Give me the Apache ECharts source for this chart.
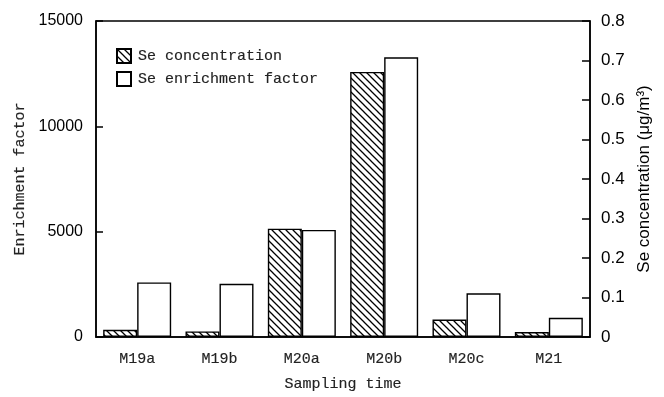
<!DOCTYPE html>
<html>
<head>
<meta charset="utf-8">
<script src="https://cdn.jsdelivr.net/npm/echarts@6/dist/echarts.min.js"></script>
<style>html,body{margin:0;padding:0;background:#fff}#c{width:664px;height:397px}</style>
</head>
<body>
<div id="c"></div>
<script>
const categories = ['M19a', 'M19b', 'M20a', 'M20b', 'M20c', 'M21'];
const seConcentration = [0.018, 0.014, 0.274, 0.671, 0.044, 0.0125];
const enrichmentFactor = [2590, 2525, 5080, 13280, 2070, 905];
const leftTicks = { min: 0, max: 15000, interval: 5000 };
const rightTicks = { min: 0, max: 0.8, interval: 0.1 };

function hatch() {
  const s = 7;
  const cv = document.createElement('canvas');
  cv.width = s; cv.height = s;
  const g = cv.getContext('2d');
  g.fillStyle = '#fff'; g.fillRect(0, 0, s, s);
  g.strokeStyle = '#000'; g.lineWidth = 1.3;
  g.beginPath();
  g.moveTo(-1, -1); g.lineTo(s + 1, s + 1);
  g.moveTo(-1, s - 1); g.lineTo(1, s + 1);
  g.moveTo(s - 1, -1); g.lineTo(s + 1, 1);
  g.stroke();
  return { image: cv, repeat: 'repeat' };
}

const mono = '"Liberation Mono", "DejaVu Sans Mono", monospace';
const sans = 'Arial, "Liberation Sans", sans-serif';
const monoStyle = { fontFamily: mono, fontSize: 15, color: '#222', textBorderColor: '#222', textBorderWidth: 0.15 };
const chart = echarts.init(document.getElementById('c'), null, { renderer: 'canvas' });
chart.setOption({
  animation: false,
  grid: { left: 96, right: 74, top: 21, bottom: 57, show: true, borderColor: '#000', borderWidth: 1.5, backgroundColor: 'transparent' },
  legend: {
    orient: 'vertical', left: 116, top: 48, padding: 0, itemWidth: 14, itemHeight: 14, itemGap: 7,
    icon: 'rect',
    textStyle: Object.assign({}, monoStyle, { padding: [0, 0, 0, 2] }),
    data: ['Se concentration', 'Se enrichment factor']
  },
  xAxis: {
    type: 'category', data: categories,
    axisLine: { lineStyle: { color: '#000', width: 1.5 } },
    axisTick: { show: false },
    axisLabel: Object.assign({}, monoStyle, { margin: 15 }),
    name: 'Sampling time', nameLocation: 'middle', nameGap: 40,
    nameTextStyle: monoStyle
  },
  yAxis: [
    {
      type: 'value', min: leftTicks.min, max: leftTicks.max, interval: leftTicks.interval,
      position: 'left',
      axisLine: { show: true, lineStyle: { color: '#000', width: 1.5 } },
      axisTick: { show: true, inside: true, length: 7, lineStyle: { color: '#000', width: 1.5 } },
      axisLabel: { fontFamily: sans, fontSize: 16, color: '#000', margin: 13, formatter: v => String(v) },
      splitLine: { show: false },
      name: 'Enrichment factor', nameLocation: 'middle', nameGap: 58,
      nameTextStyle: monoStyle
    },
    {
      type: 'value', min: rightTicks.min, max: rightTicks.max, interval: rightTicks.interval,
      position: 'right',
      axisLine: { show: true, lineStyle: { color: '#000', width: 1.5 } },
      axisTick: { show: true, inside: true, length: 8, lineStyle: { color: '#000', width: 1.5 } },
      axisLabel: { fontFamily: sans, fontSize: 17, color: '#000', margin: 11, formatter: v => (Math.round(v * 10) / 10).toString() },
      splitLine: { show: false },
      name: 'Se concentration (μg/m³)', nameLocation: 'middle', nameGap: 44, nameRotate: 90,
      nameTextStyle: { fontFamily: sans, fontSize: 17, color: '#000' }
    }
  ],
  series: [
    {
      name: 'Se concentration', type: 'bar', yAxisIndex: 1, data: seConcentration,
      barWidth: 34, barGap: '0%',
      itemStyle: { color: hatch(), borderColor: '#000', borderWidth: 1.4 }
    },
    {
      name: 'Se enrichment factor', type: 'bar', yAxisIndex: 0, data: enrichmentFactor,
      barWidth: 34, barGap: '0%',
      itemStyle: { color: '#fff', borderColor: '#000', borderWidth: 1.4 }
    }
  ]
});
</script>
</body>
</html>
